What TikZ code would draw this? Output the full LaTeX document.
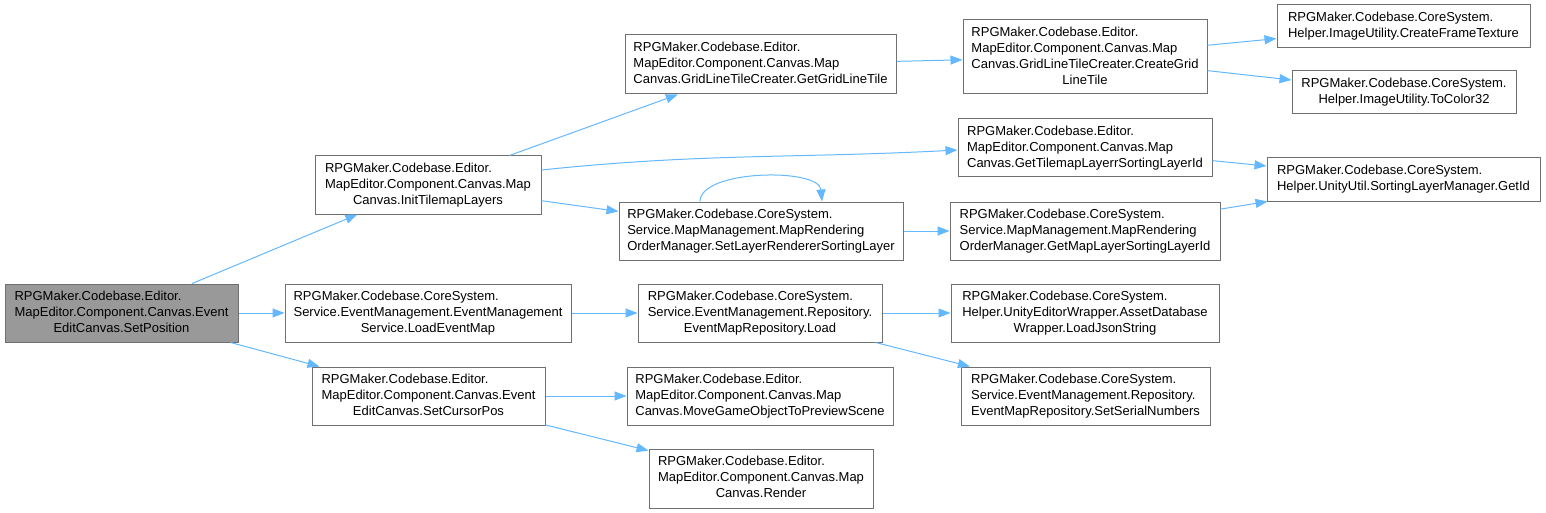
\documentclass[tikz,border=0pt]{standalone}
\usepackage{fontspec}
\setmainfont{Liberation Sans}
\usetikzlibrary{arrows.meta,calc}
\definecolor{boxline}{HTML}{707070}
\definecolor{rootfill}{HTML}{999999}
\definecolor{arrowcol}{HTML}{63B8FF}
\newcommand{\lbl}[2]{\begin{tabular}{@{}l@{}}#1\\\multicolumn{1}{@{}c@{}}{#2}\end{tabular}}
\begin{document}
\begin{tikzpicture}[x=1pt,y=-1pt,
  fnbox/.style={draw=boxline,fill=white,line width=1pt,inner sep=0pt,
    font=\fontsize{13}{16}\selectfont},
  rootbox/.style={fnbox,fill=rootfill},
  callarrow/.style={draw=arrowcol,line width=1pt,
    -{Triangle[length=12pt,width=9pt]}}]
\useasboundingbox (0,0) rectangle (1546,513);
% nodes
\node[rootbox,minimum width=233,minimum height=58] (A) at (121.5,313)
  {\lbl{RPGMaker.Codebase.Editor.\\MapEditor.Component.Canvas.Event}{EditCanvas.SetPosition}};
\node[fnbox,minimum width=226,minimum height=58] (B) at (428,185)
  {\lbl{RPGMaker.Codebase.Editor.\\MapEditor.Component.Canvas.Map}{Canvas.InitTilemapLayers}};
\node[fnbox,minimum width=271,minimum height=59] (C) at (760.5,64.5)
  {\lbl{RPGMaker.Codebase.Editor.\\MapEditor.Component.Canvas.Map}{Canvas.GridLineTileCreater.GetGridLineTile}};
\node[fnbox,minimum width=244,minimum height=74] (D) at (1085,57)
  {\lbl{RPGMaker.Codebase.Editor.\\MapEditor.Component.Canvas.Map\\Canvas.GridLineTileCreater.CreateGrid}{LineTile}};
\node[fnbox,minimum width=253,minimum height=43] (E) at (1403.5,26.5)
  {\lbl{RPGMaker.Codebase.CoreSystem.}{Helper.ImageUtility.CreateFrameTexture}};
\node[fnbox,minimum width=224,minimum height=43] (F) at (1404,92.5)
  {\lbl{RPGMaker.Codebase.CoreSystem.}{Helper.ImageUtility.ToColor32}};
\node[fnbox,minimum width=254,minimum height=58] (G) at (1085,148)
  {\lbl{RPGMaker.Codebase.Editor.\\MapEditor.Component.Canvas.Map}{Canvas.GetTilemapLayerrSortingLayerId}};
\node[fnbox,minimum width=273,minimum height=43] (H) at (1403.5,179.5)
  {\lbl{RPGMaker.Codebase.CoreSystem.}{Helper.UnityUtil.SortingLayerManager.GetId}};
\node[fnbox,minimum width=284,minimum height=58] (I) at (761,231)
  {\lbl{RPGMaker.Codebase.CoreSystem.\\Service.MapManagement.MapRendering}{OrderManager.SetLayerRendererSortingLayer}};
\node[fnbox,minimum width=270,minimum height=58] (J) at (1085,231)
  {\lbl{RPGMaker.Codebase.CoreSystem.\\Service.MapManagement.MapRendering}{OrderManager.GetMapLayerSortingLayerId}};
\node[fnbox,minimum width=286,minimum height=58] (K) at (428,313)
  {\lbl{RPGMaker.Codebase.CoreSystem.\\Service.EventManagement.EventManagement}{Service.LoadEventMap}};
\node[fnbox,minimum width=244,minimum height=58] (L) at (760,313)
  {\lbl{RPGMaker.Codebase.CoreSystem.\\Service.EventManagement.Repository.}{EventMapRepository.Load}};
\node[fnbox,minimum width=268,minimum height=58] (M) at (1085,313)
  {\lbl{RPGMaker.Codebase.CoreSystem.\\Helper.UnityEditorWrapper.AssetDatabase}{Wrapper.LoadJsonString}};
\node[fnbox,minimum width=249,minimum height=58] (N) at (1085.5,396)
  {\lbl{RPGMaker.Codebase.CoreSystem.\\Service.EventManagement.Repository.}{EventMapRepository.SetSerialNumbers}};
\node[fnbox,minimum width=233,minimum height=58] (O) at (428.5,396)
  {\lbl{RPGMaker.Codebase.Editor.\\MapEditor.Component.Canvas.Event}{EditCanvas.SetCursorPos}};
\node[fnbox,minimum width=266,minimum height=58] (P) at (760,396)
  {\lbl{RPGMaker.Codebase.Editor.\\MapEditor.Component.Canvas.Map}{Canvas.MoveGameObjectToPreviewScene}};
\node[fnbox,minimum width=224,minimum height=59] (Q) at (761,478.5)
  {\lbl{RPGMaker.Codebase.Editor.\\MapEditor.Component.Canvas.Map}{Canvas.Render}};
% connectors
\draw[callarrow] (A) -- (B);
\draw[callarrow] (A) -- (K);
\draw[callarrow] (A) -- (O);
\draw[callarrow] (B) -- (C);
\draw[callarrow] ($(B.east)+(0,-15)$) to[out=6,in=183] ($(G.west)+(0,2)$);
\draw[callarrow] (B) -- (I);
\draw[callarrow] (C) -- (D);
\draw[callarrow] (D) -- (E);
\draw[callarrow] (D) -- (F);
\draw[callarrow] (G) -- (H);
\draw[callarrow] ($(I.north)+(-61,0)$) .. controls ($(I.north)+(-61,-32)$) and ($(I.north)+(58,-34)$) .. ($(I.north)+(61,0)$);
\draw[callarrow] (I) -- (J);
\draw[callarrow] (J) -- (H);
\draw[callarrow] (K) -- (L);
\draw[callarrow] (L) -- (M);
\draw[callarrow] (L) -- (N);
\draw[callarrow] (O) -- (P);
\draw[callarrow] (O) -- (Q);
\end{tikzpicture}
\end{document}
